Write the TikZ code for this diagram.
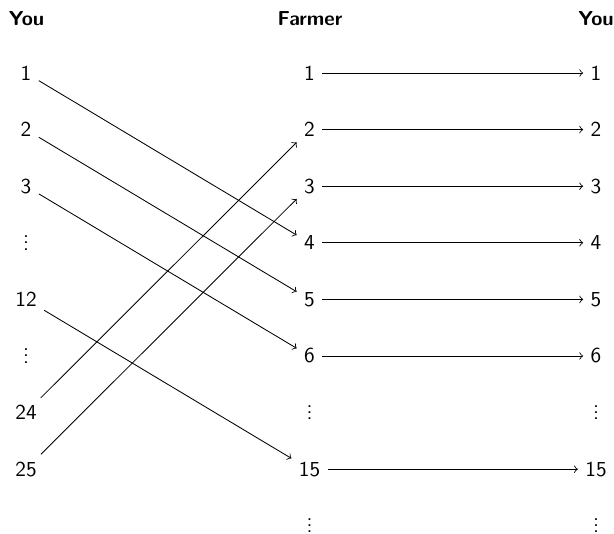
\documentclass[tikz,border=0pt]{standalone}
\renewcommand{\familydefault}{\sfdefault}
\newcommand{\myvdots}{\vbox{\baselineskip3pt\lineskiplimit0pt\hbox{.}\hbox{.}\hbox{.}}}
\begin{document}
\begin{tikzpicture}[x=0.47pt,y=-0.47pt,
  num/.style={font=\sffamily},
  vd/.style={font=\sffamily,inner sep=1pt},
  hdr/.style={font=\sffamily\bfseries\fontsize{9.5}{11}\selectfont},
  arr/.style={->}]
\useasboundingbox (0,0) rectangle (614,534);
% headers
\node[hdr] (hl) at (26.5,18.5) {You};
\node[hdr] (hm) at (310,18.5) {Farmer};
\node[hdr] (hr) at (596,18.5) {You};
% left column
\node[num] (L1)  at (26,73)    {1};
\node[num] (L2)  at (26,129.6) {2};
\node[num] (L3)  at (26,186.2) {3};
\node[vd]  (Ld1) at (26,242.8) {\myvdots};
\node[num] (L12) at (26,299.4) {12};
\node[vd]  (Ld2) at (26,356)   {\myvdots};
\node[num] (L24) at (26,412.6) {24};
\node[num] (L25) at (26,469.2) {25};
% middle column
\node[num] (M1)  at (309.5,73)    {1};
\node[num] (M2)  at (309.5,129.6) {2};
\node[num] (M3)  at (309.5,186.2) {3};
\node[num] (M4)  at (309.5,242.8) {4};
\node[num] (M5)  at (309.5,299.4) {5};
\node[num] (M6)  at (309.5,356)   {6};
\node[vd]  (Md1) at (309.5,412.6) {\myvdots};
\node[num] (M15) at (309.5,469.2) {15};
\node[vd]  (Md2) at (309.5,525.5) {\myvdots};
% right column
\node[num] (R1)  at (596,73)    {1};
\node[num] (R2)  at (596,129.6) {2};
\node[num] (R3)  at (596,186.2) {3};
\node[num] (R4)  at (596,242.8) {4};
\node[num] (R5)  at (596,299.4) {5};
\node[num] (R6)  at (596,356)   {6};
\node[vd]  (Rd1) at (596,412.6) {\myvdots};
\node[num] (R15) at (596,469.2) {15};
\node[vd]  (Rd2) at (596,525.5) {\myvdots};
% crossing arrows
\draw[arr] (L1) -- (M4);
\draw[arr] (L2) -- (M5);
\draw[arr] (L3) -- (M6);
\draw[arr] (L12) -- (M15);
\draw[arr] (L24) -- (M2);
\draw[arr] (L25) -- (M3);
% straight arrows
\foreach \i in {1,2,3,4,5,6,15} \draw[arr] (M\i) -- (R\i);
\end{tikzpicture}
\end{document}
